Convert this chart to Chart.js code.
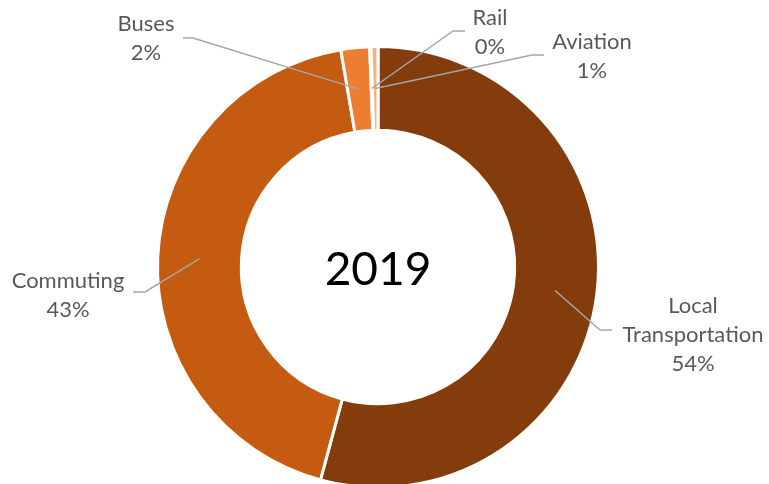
<!DOCTYPE html>
<html>
<head>
<meta charset="utf-8">
<script src="https://cdn.jsdelivr.net/npm/chart.js@4/dist/chart.umd.min.js"></script>
<style>
  html, body { margin: 0; padding: 0; background: #fff; overflow: hidden; }
  canvas { display: block; }
</style>
</head>
<body>
<canvas id="Chart" width="769" height="520"></canvas>
<script>
const categories = ["Local Transportation", "Commuting", "Buses", "Rail", "Aviation"];
const shares = [54.2, 43.1, 2.1, 0.1, 0.5];
const sliceColors = ["#843C0C", "#C55A11", "#ED7D31", "#F8CBAD", "#F4B183"];
const centerTitle = "2019";

// where each callout sits: text lines, centre x, first baseline, leader elbow + end
const callouts = [
  { lines: ["Local", "Transportation"], x: 693, y: 313, elbow: [600, 330], end: [612, 330] },
  { lines: ["Commuting"], x: 68, y: 288, elbow: [145, 292], end: [133, 292] },
  { lines: ["Buses"], x: 146, y: 31, elbow: [193, 38], end: [183, 38] },
  { lines: ["Rail"], x: 490, y: 25, elbow: [453, 31], end: [465, 31] },
  { lines: ["Aviation"], x: 592, y: 49, elbow: [532, 55], end: [544, 55] },
];

const calloutPlugin = {
  id: "callouts",
  afterDatasetsDraw(chart) {
    const ctx = chart.ctx;
    const arcs = chart.getDatasetMeta(0).data;
    ctx.save();
    arcs.forEach((arc, i) => {
      const c = callouts[i];
      const p = arc.getProps(["x", "y", "startAngle", "endAngle", "innerRadius", "outerRadius"], true);
      const mid = (p.startAngle + p.endAngle) / 2;
      const r = (p.innerRadius + p.outerRadius) / 2;
      ctx.strokeStyle = "#A6A6A6";
      ctx.lineWidth = 1.5;
      ctx.beginPath();
      ctx.moveTo(p.x + Math.cos(mid) * r, p.y + Math.sin(mid) * r);
      ctx.lineTo(c.elbow[0], c.elbow[1]);
      ctx.lineTo(c.end[0], c.end[1]);
      ctx.stroke();

      ctx.fillStyle = "#595959";
      ctx.font = "22px Lato";
      ctx.textAlign = "center";
      ctx.textBaseline = "alphabetic";
      const lines = c.lines.concat([Math.round(shares[i]) + "%"]);
      lines.forEach((t, k) => ctx.fillText(t, c.x, c.y + k * 29));
    });
    const a = arcs[0];
    ctx.fillStyle = "#000";
    ctx.font = "46px Lato";
    ctx.textAlign = "center";
    ctx.fillText(centerTitle, a.x, 285);
    ctx.restore();
  },
};

new Chart(document.getElementById("Chart").getContext("2d"), {
  type: "doughnut",
  data: {
    labels: categories,
    datasets: [
      {
        data: shares,
        backgroundColor: sliceColors,
        borderColor: "#fff",
        borderWidth: 3,
      },
    ],
  },
  options: {
    responsive: false,
    animation: false,
    cutout: "62%",
    layout: { padding: { left: 156, right: 169, top: 45, bottom: 31 } },
    plugins: {
      legend: { display: false },
      tooltip: { enabled: false },
    },
  },
  plugins: [calloutPlugin],
});
</script>
</body>
</html>
